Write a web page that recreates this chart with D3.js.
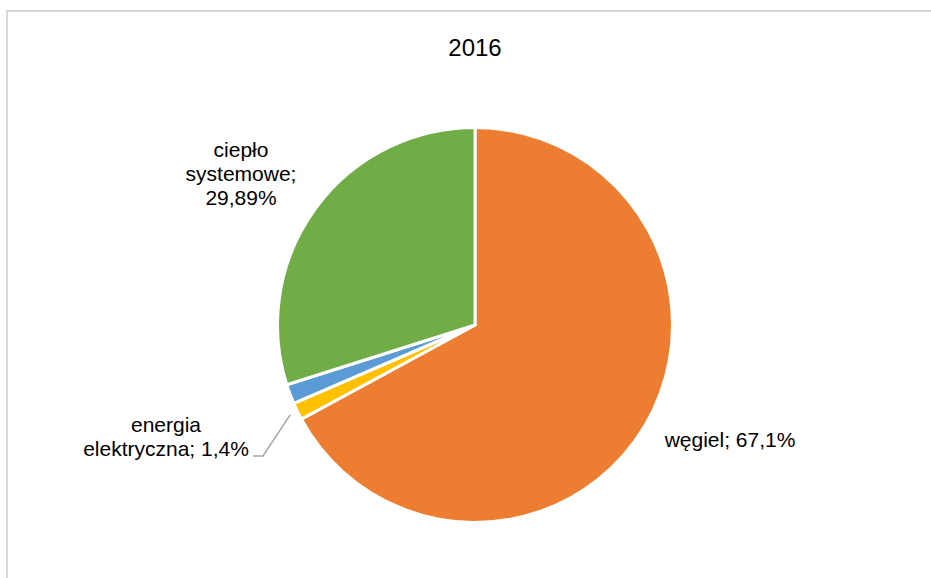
<!DOCTYPE html>
<html>
<head>
<meta charset="utf-8">
<script src="https://cdn.jsdelivr.net/npm/d3@7"></script>
<style>
  body { margin: 0; background: #fff; }
  text { font-family: "Liberation Sans", Arial, sans-serif; fill: #000; }
</style>
</head>
<body>
<div id="chart"></div>
<script>
// data
const title = "2016";
const categories = ["węgiel", "energia elektryczna", "inne", "ciepło systemowe"];
const values = [67.1, 1.4, 1.61, 29.89];
const labels = [["węgiel; 67,1%"], ["energia", "elektryczna; 1,4%"], [], ["ciepło", "systemowe;", "29,89%"]];
const colors = ["#ED7D31", "#FFC000", "#5B9BD5", "#70AD47"];

const width = 931;
const height = 578;

const svg = d3.select("#chart")
    .append("svg")
    .attr("width", width)
    .attr("height", height);

// chart frame (runs off the right / bottom edge in the original)
svg.append("rect")
    .attr("x", 7).attr("y", 11)
    .attr("width", 960).attr("height", 620)
    .attr("fill", "none")
    .attr("stroke", "#d9d9d9")
    .attr("stroke-width", 2);

svg.append("text")
    .attr("x", 475).attr("y", 56)
    .attr("text-anchor", "middle")
    .style("font-size", "24px")
    .text(title);

const cx = 475, cy = 325, radius = 197.5;

const pie = d3.pie().sort(null).value(d => d);
const arc = d3.arc().innerRadius(0).outerRadius(radius);
const arcs = pie(values);

const g = svg.append("g")
    .attr("transform", `translate(${cx},${cy})`);

g.selectAll("path")
    .data(arcs)
    .join("path")
    .attr("d", arc)
    .attr("fill", (d, i) => colors[i])
    .attr("stroke", "#fff")
    .attr("stroke-width", 3)
    .attr("stroke-linejoin", "round");

// label placement (manually dragged labels, as in the original)
const labelOffset = [[255, 122], [-309, 107], null, [-234, -168]];
const lineHeight = 24;

labels.forEach((lines, i) => {
    if (!lines.length) return;
    const t = g.append("text")
        .attr("text-anchor", "middle")
        .style("font-size", "21px");
    lines.forEach((s, j) => {
        t.append("tspan")
            .attr("x", labelOffset[i][0])
            .attr("y", labelOffset[i][1] + j * lineHeight)
            .text(s);
    });
});

// leader line for the small yellow slice
const a = arcs[1];
const mid = (a.startAngle + a.endAngle) / 2;
const edge = [Math.sin(mid) * (radius + 8), -Math.cos(mid) * (radius + 8)];
g.append("polyline")
    .attr("points", [[-222, 131], [-212, 131], edge].map(p => p.join(",")).join(" "))
    .attr("fill", "none")
    .attr("stroke", "#a6a6a6")
    .attr("stroke-width", 1.5);
</script>
</body>
</html>
